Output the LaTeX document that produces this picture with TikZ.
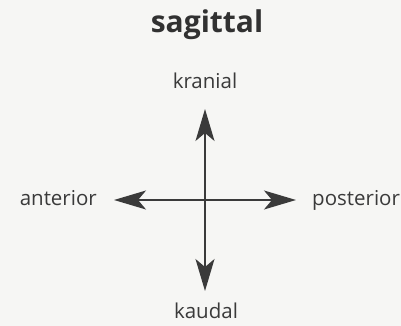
\documentclass[tikz,border=0pt]{standalone}
\usepackage{fontspec}
\setmainfont{Open Sans}
\usetikzlibrary{arrows.meta}
\definecolor{ink}{HTML}{3A3A3A}
\definecolor{paper}{HTML}{F6F6F4}
\tikzset{
  label/.style={text=ink, inner sep=0pt, anchor=base, font=\fontsize{20.5}{24}\selectfont},
  axis/.style={draw=ink, line width=1.4pt, {Stealth[length=32pt,width=19pt,inset=8pt]}-{Stealth[length=32pt,width=19pt,inset=8pt]}},
}
\begin{document}
\begin{tikzpicture}[x=1pt,y=-1pt]
  \fill[paper] (0,0) rectangle (401,326);
  \useasboundingbox (0,0) rectangle (401,326);
  % title
  \node[label, text=ink!85!black, font=\fontsize{30}{36}\bfseries] (title) at (207,33) {sagittal};
  % direction labels
  \node[label] (kr) at (205,89) {kranial};
  \node[label] (ka) at (206,318) {kaudal};
  \node[label, anchor=base east] (an) at (97,205) {anterior};
  \node[label, anchor=base west] (po) at (312,205) {posterior};
  % axis end points
  \coordinate (c) at (205,200);
  \coordinate (top) at (205,109);
  \coordinate (bot) at (205,291);
  \coordinate (lft) at (114,200);
  \coordinate (rgt) at (296,200);
  \draw[axis] (bot) -- (top);
  \draw[axis] (lft) -- (rgt);
\end{tikzpicture}
\end{document}
